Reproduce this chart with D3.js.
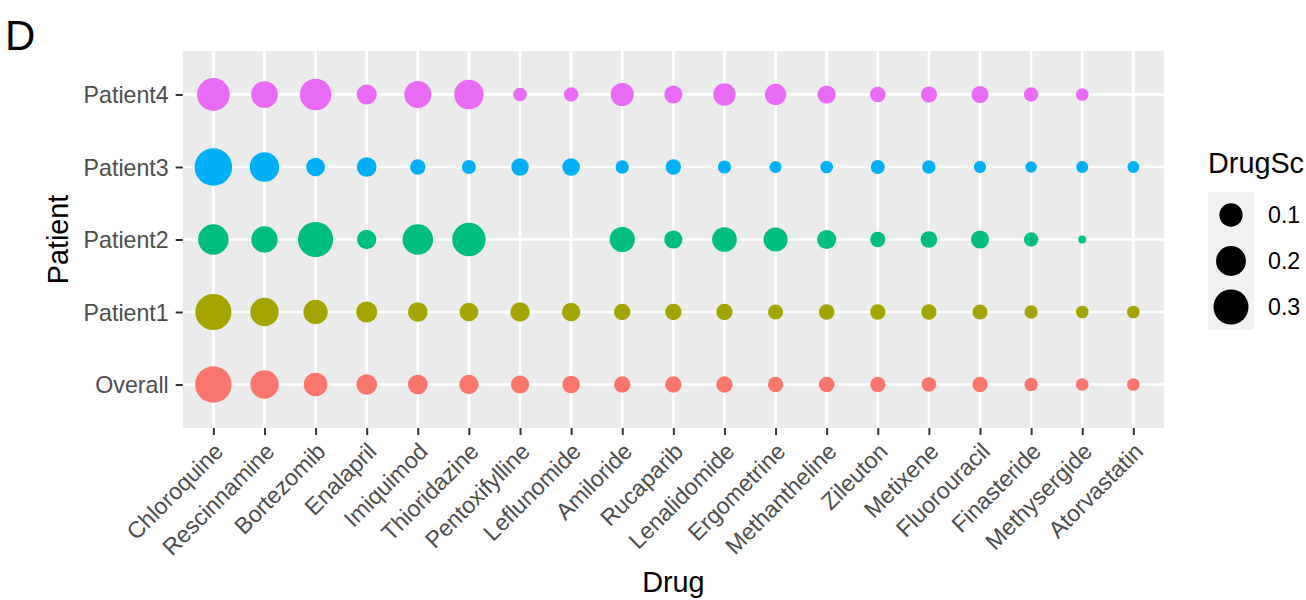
<!DOCTYPE html>
<html>
<head>
<meta charset="utf-8">
<script src="https://cdn.jsdelivr.net/npm/d3@7"></script>
<style>
  html, body { margin: 0; padding: 0; background: #fff; }
  svg { display: block; font-family: "Liberation Sans", Arial, sans-serif; }
</style>
</head>
<body>
<svg id="chart" width="1306" height="600"></svg>
<script>
// ---- data ----
const drugs = ["Chloroquine","Rescinnamine","Bortezomib","Enalapril","Imiquimod","Thioridazine",
  "Pentoxifylline","Leflunomide","Amiloride","Rucaparib","Lenalidomide","Ergometrine",
  "Methantheline","Zileuton","Metixene","Fluorouracil","Finasteride","Methysergide","Atorvastatin"];
const patients = ["Overall","Patient1","Patient2","Patient3","Patient4"];
const overallScores  = [0.332,0.174,0.105,0.071,0.061,0.058,0.047,0.043,0.034,0.034,0.034,0.027,0.029,0.027,0.023,0.027,0.017,0.014,0.014];
const patient1Scores = [0.326,0.174,0.114,0.075,0.061,0.052,0.058,0.049,0.034,0.034,0.034,0.026,0.029,0.027,0.027,0.026,0.017,0.014,0.014];
const patient2Scores = [0.209,0.142,0.303,0.058,0.209,0.267,null,null,0.124,0.047,0.118,0.110,0.055,0.027,0.036,0.047,0.022,0.005,null];
const patient3Scores = [0.356,0.191,0.052,0.061,0.027,0.020,0.041,0.043,0.017,0.027,0.016,0.012,0.014,0.020,0.017,0.013,0.010,0.012,0.011];
const patient4Scores = [0.253,0.147,0.228,0.065,0.153,0.191,0.018,0.022,0.098,0.047,0.089,0.078,0.047,0.029,0.032,0.039,0.022,0.014,null];
const sizeBreaks = [0.1, 0.2, 0.3];
const patientColors = ["#F8766D","#A3A500","#00BF7D","#00B0F6","#E76BF3"];

const scoreSeries = [overallScores, patient1Scores, patient2Scores, patient3Scores, patient4Scores];
const points = [];
patients.forEach((p, pi) => {
  scoreSeries[pi].forEach((v, di) => {
    if (v !== null) points.push({patient: p, drug: drugs[di], value: v});
  });
});

// ---- layout ----
const svg = d3.select("#chart");
const panel = {left: 182.7, right: 1164, top: 51, bottom: 428};
const FONT = '"Liberation Sans", Arial, sans-serif';

const x = d3.scalePoint().domain(drugs).range([panel.left, panel.right]).padding(0.6);
const y = d3.scalePoint().domain(patients).range([panel.bottom, panel.top]).padding(0.6);
const color = d3.scaleOrdinal().domain(patients).range(patientColors);

// ggplot-like area size scale
const frac = d3.scaleLinear().domain(d3.extent(points, d => d.value)).range([0, 1]);
const sizeScale = d3.scaleLinear().domain([0, 1]).range([1, 6]);
const PX = 2.08;
const radius = v => PX * (2.845 * sizeScale(Math.sqrt(Math.max(0, frac(v)))) + 0.945) / 2;

// panel background
svg.append("rect")
  .attr("x", panel.left).attr("y", panel.top)
  .attr("width", panel.right - panel.left).attr("height", panel.bottom - panel.top)
  .attr("fill", "#EBEBEB");

// gridlines
const grid = svg.append("g");
grid.selectAll("line.v").data(drugs).join("line")
  .attr("x1", d => x(d)).attr("x2", d => x(d))
  .attr("y1", panel.top).attr("y2", panel.bottom)
  .attr("stroke", "#fff").attr("stroke-width", 2.5);
grid.selectAll("line.h").data(patients).join("line")
  .attr("y1", d => y(d)).attr("y2", d => y(d))
  .attr("x1", panel.left).attr("x2", panel.right)
  .attr("stroke", "#fff").attr("stroke-width", 2.5);

// points
svg.append("g").selectAll("circle").data(points).join("circle")
  .attr("cx", d => x(d.drug)).attr("cy", d => y(d.patient))
  .attr("r", d => radius(d.value))
  .attr("fill", d => color(d.patient));

// x axis
const xAxis = svg.append("g").attr("transform", `translate(0,${panel.bottom})`)
  .call(d3.axisBottom(x).tickSize(7).tickPadding(0));
xAxis.select(".domain").remove();
xAxis.selectAll(".tick line").attr("stroke", "#333").attr("stroke-width", 2);
xAxis.selectAll(".tick text")
  .attr("fill", "#4D4D4D").attr("font-size", 23.2)
  .attr("font-family", FONT)
  .attr("text-anchor", "end")
  .attr("y", 0).attr("dy", "0.72em")
  .attr("transform", "translate(-1,13) rotate(-45)");

// y axis
const yAxis = svg.append("g").attr("transform", `translate(${panel.left},0)`)
  .call(d3.axisLeft(y).tickSize(7).tickPadding(7));
yAxis.select(".domain").remove();
yAxis.selectAll(".tick line").attr("stroke", "#333").attr("stroke-width", 2);
yAxis.selectAll(".tick text")
  .attr("fill", "#4D4D4D").attr("font-size", 23.2)
  .attr("font-family", FONT)
  .attr("dy", "0.35em");

// axis titles
svg.append("text").attr("x", (panel.left + panel.right) / 2).attr("y", 592)
  .attr("text-anchor", "middle").attr("font-size", 28.8).attr("fill", "#000").text("Drug");
svg.append("text").attr("transform", `translate(67.5,${(panel.top + panel.bottom) / 2}) rotate(-90)`)
  .attr("text-anchor", "middle").attr("font-size", 28.8).attr("fill", "#000").text("Patient");

// panel tag
svg.append("text").attr("x", 5).attr("y", 50).attr("font-size", 42).attr("fill", "#000").text("D");

// legend
const legend = svg.append("g");
legend.append("text").attr("x", 1208).attr("y", 173)
  .attr("font-size", 28.8).attr("fill", "#000").text("DrugSc");
const keyY0 = 192, keyH = 46, keyX = 1208, keyW = 46;
legend.append("rect").attr("x", keyX).attr("y", keyY0)
  .attr("width", keyW).attr("height", keyH * sizeBreaks.length).attr("fill", "#F2F2F2");
const keys = legend.selectAll("g.key").data(sizeBreaks).join("g")
  .attr("transform", (d, i) => `translate(${keyX + keyW / 2},${keyY0 + keyH * i + keyH / 2})`);
keys.append("circle").attr("r", d => radius(d)).attr("fill", "#000");
keys.append("text").attr("x", 37).attr("dy", "0.35em")
  .attr("font-size", 23.2).attr("fill", "#000").text(d => d3.format(".1f")(d));
</script>
</body>
</html>
